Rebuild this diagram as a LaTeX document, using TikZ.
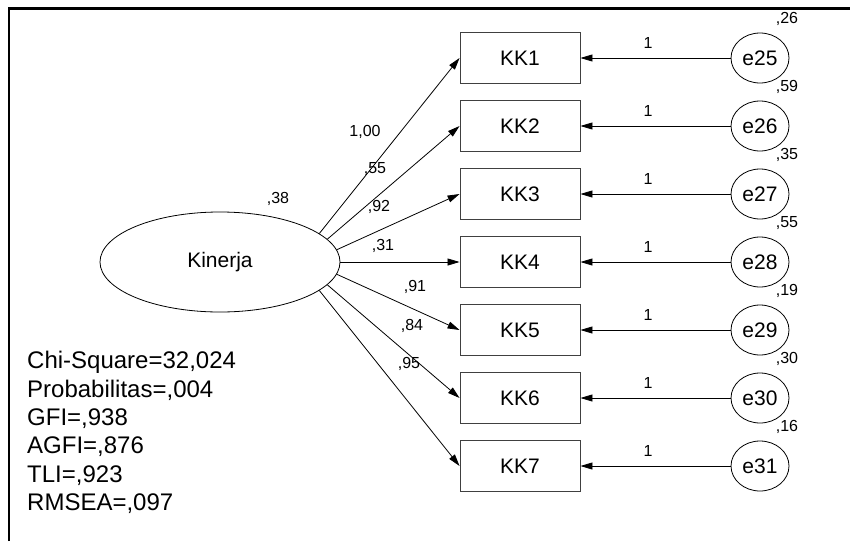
\documentclass[tikz,border=0pt]{standalone}
\usepackage{fontspec}
\setmainfont{Liberation Sans}
\usetikzlibrary{arrows.meta,shapes.geometric}
\begin{document}
\begin{tikzpicture}[x=1pt,y=-1pt,
  obs/.style={draw=black!75, line width=0.9pt, minimum width=120pt, minimum height=51pt, inner sep=0pt, font=\fontsize{21}{25}\selectfont},
  err/.style={draw, ellipse, line width=0.8pt, minimum width=58pt, minimum height=50pt, inner sep=0pt, font=\fontsize{21}{25}\selectfont},
  lat/.style={draw, ellipse, line width=0.8pt, minimum width=240pt, minimum height=100pt, inner sep=0pt, font=\fontsize{21}{25}\selectfont},
  lbl/.style={font=\fontsize{16}{19}\selectfont, inner sep=0pt},
  arr/.style={line width=0.8pt, -{Triangle[length=12pt,width=7pt]}},
  fit/.style={font=\fontsize{24}{28.3}\selectfont, align=left, inner sep=0pt, anchor=west}
]
\useasboundingbox (0,0) rectangle (850,541);
\draw[line width=2.5pt] (9,541) -- (9,8.5) -- (850,8.5);

\node[lat] (kin) at (220,262) {Kinerja};
\node[lbl] (v38) at (278,199) {,38};

\foreach \i/\v in {1/26,2/59,3/35,4/55,5/19,6/30,7/16}{
  \pgfmathsetmacro{\yy}{58+68*(\i-1)}
  \pgfmathtruncatemacro{\en}{24+\i}
  \node[obs] (kk\i) at (520,\yy) {KK\i};
  \node[err] (e\i) at (760,\yy) {e\en};
  \node[lbl] (ev\i) at (787,\yy-39) {,\v};
  \draw[arr] (e\i) -- node[lbl, pos=0.55, above=9pt] (one\i) {1} (kk\i);
}

\draw[arr] (kin.16.7) -- (kk1.west);
\draw[arr] (kin.12.4) -- (kk2.west);
\draw[arr] (kin.6.8) -- (kk3.west);
\draw[arr] (kin.0) -- (kk4.west);
\draw[arr] (kin.-6.8) -- (kk5.west);
\draw[arr] (kin.-12.4) -- (kk6.west);
\draw[arr] (kin.-16.7) -- (kk7.west);

\node[lbl] (l1) at (365,132) {1,00};
\node[lbl] (l2) at (375,169) {,55};
\node[lbl] (l3) at (379,207) {,92};
\node[lbl] (l4) at (383,246) {,31};
\node[lbl] (l5) at (415,287) {,91};
\node[lbl] (l6) at (412,326) {,84};
\node[lbl] (l7) at (409,364) {,95};

\node[fit] (fitidx) at (27,432.5) {Chi-Square=32,024\\Probabilitas=,004\\GFI=,938\\AGFI=,876\\TLI=,923\\RMSEA=,097};
\end{tikzpicture}
\end{document}
